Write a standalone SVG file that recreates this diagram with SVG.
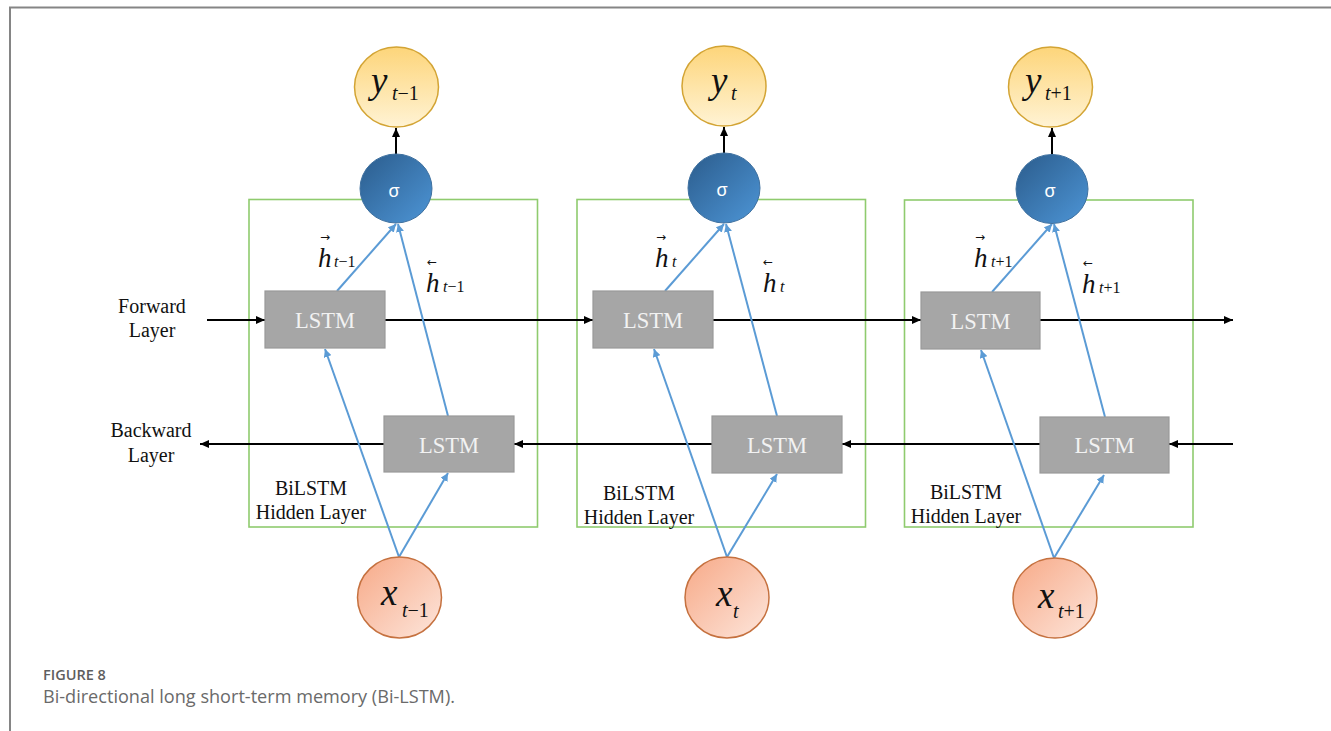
<svg xmlns="http://www.w3.org/2000/svg" width="1331" height="731" viewBox="0 0 1331 731">
<defs>
<linearGradient id="gy" x1="0" y1="0" x2="0" y2="1"><stop offset="0" stop-color="#fdd57a"/><stop offset="1" stop-color="#fff3d4"/></linearGradient>
<linearGradient id="gs" x1="0" y1="0" x2="1" y2="1"><stop offset="0" stop-color="#2b5c8c"/><stop offset="1" stop-color="#4d95d6"/></linearGradient>
<linearGradient id="gx" x1="0" y1="0" x2="1" y2="1"><stop offset="0" stop-color="#f7a987"/><stop offset="1" stop-color="#fde6dc"/></linearGradient>
<marker id="ak" markerWidth="9" markerHeight="8" refX="9" refY="4" orient="auto" markerUnits="userSpaceOnUse"><path d="M0,0 L9,4 L0,8 z" fill="#000"/></marker>
<marker id="ab" markerWidth="8" markerHeight="8" refX="8" refY="4" orient="auto" markerUnits="userSpaceOnUse"><path d="M0,0 L8,4 L0,8 z" fill="#5b9bd5"/></marker>
</defs>
<style>
.frame{stroke:#858585;stroke-width:2;fill:none}
.gbox{fill:none;stroke:#8fcb6e;stroke-width:1.6}
.lstm{fill:#a6a6a6;stroke:#999;stroke-width:1.2}
.lt{font-family:"Liberation Serif",serif;font-size:22.5px;fill:#f2f2f2;text-anchor:middle}
.ycirc{fill:url(#gy);stroke:#d3a434;stroke-width:1.5}
.scirc{fill:url(#gs);stroke:#3f71a0;stroke-width:1}
.xcirc{fill:url(#gx);stroke:#c5713f;stroke-width:1.5}
.sig{font-family:"Liberation Sans",sans-serif;font-size:18px;fill:#fff;text-anchor:middle}
.m{font-family:"Liberation Serif",serif;font-style:italic;fill:#111}
.up{font-style:normal}
.big{font-size:37px}
.hl{font-size:27px}
.sb{font-size:20px}
.hs{font-size:16px}
.acc{font-family:"DejaVu Sans",sans-serif;font-size:12px;fill:#111}
.lbl{font-family:"Liberation Serif",serif;font-size:20px;fill:#111;text-anchor:middle}
.blk{stroke:#000;stroke-width:2;fill:none}
.blu{stroke:#5b9bd5;stroke-width:2;fill:none}
.cap1{font-family:"Open Sans",sans-serif;font-weight:600;font-size:14.5px;fill:#5e5e5e}
.cap2{font-family:"Open Sans",sans-serif;font-size:18px;fill:#6a6a6a}
</style>
<rect width="1331" height="731" fill="#fff"/>
<path class="frame" d="M10,731 L10,7.5 L1331,7.5"/>

<g id="hidden-boxes">
<rect id="box1" class="gbox" x="249" y="199.5" width="288.5" height="327.5"/>
<rect id="box2" class="gbox" x="577" y="199.5" width="288.5" height="327.5"/>
<rect id="box3" class="gbox" x="904.5" y="200" width="288.5" height="327"/>
</g>

<g id="connectors">
<line class="blk" x1="396" y1="154" x2="396" y2="128" marker-end="url(#ak)"/>
<line class="blk" x1="724" y1="153" x2="724" y2="127" marker-end="url(#ak)"/>
<line class="blk" x1="1052" y1="155" x2="1052" y2="128" marker-end="url(#ak)"/>
<line class="blk" x1="207" y1="320" x2="265" y2="320" marker-end="url(#ak)"/>
<line class="blk" x1="385" y1="320" x2="593" y2="320" marker-end="url(#ak)"/>
<line class="blk" x1="713" y1="320" x2="921" y2="320" marker-end="url(#ak)"/>
<line class="blk" x1="1040" y1="320" x2="1233" y2="320" marker-end="url(#ak)"/>
<line class="blk" x1="1233" y1="444" x2="1169" y2="444" marker-end="url(#ak)"/>
<line class="blk" x1="1040" y1="444" x2="842" y2="444" marker-end="url(#ak)"/>
<line class="blk" x1="712" y1="444" x2="514" y2="444" marker-end="url(#ak)"/>
<line class="blk" x1="384" y1="444" x2="200" y2="444" marker-end="url(#ak)"/>
<line class="blu" x1="399" y1="557" x2="325" y2="349" marker-end="url(#ab)"/>
<line class="blu" x1="399" y1="557" x2="448" y2="473" marker-end="url(#ab)"/>
<line class="blu" x1="337" y1="291" x2="396" y2="224" marker-end="url(#ab)"/>
<line class="blu" x1="448" y1="416" x2="398" y2="224" marker-end="url(#ab)"/>
<line class="blu" x1="727" y1="557" x2="654" y2="349" marker-end="url(#ab)"/>
<line class="blu" x1="727" y1="557" x2="777" y2="474" marker-end="url(#ab)"/>
<line class="blu" x1="665" y1="291" x2="724" y2="224" marker-end="url(#ab)"/>
<line class="blu" x1="777" y1="416" x2="726" y2="224" marker-end="url(#ab)"/>
<line class="blu" x1="1054" y1="558" x2="981" y2="350" marker-end="url(#ab)"/>
<line class="blu" x1="1054" y1="558" x2="1104" y2="475" marker-end="url(#ab)"/>
<line class="blu" x1="992" y1="292" x2="1052" y2="224" marker-end="url(#ab)"/>
<line class="blu" x1="1105" y1="417" x2="1054" y2="224" marker-end="url(#ab)"/>
</g>

<g id="lstm-f1"><rect class="lstm" x="265" y="291" width="120" height="57"/><text class="lt" x="325" y="328">LSTM</text></g>
<g id="lstm-b1"><rect class="lstm" x="384" y="416" width="130" height="56"/><text class="lt" x="449" y="453">LSTM</text></g>
<g id="lstm-f2"><rect class="lstm" x="593" y="291" width="120" height="57"/><text class="lt" x="653" y="328">LSTM</text></g>
<g id="lstm-b2"><rect class="lstm" x="712" y="416" width="130" height="57"/><text class="lt" x="777" y="453">LSTM</text></g>
<g id="lstm-f3"><rect class="lstm" x="921" y="292" width="119" height="57"/><text class="lt" x="980.5" y="329">LSTM</text></g>
<g id="lstm-b3"><rect class="lstm" x="1040" y="417" width="129" height="56"/><text class="lt" x="1104.5" y="453">LSTM</text></g>

<g id="y1"><ellipse class="ycirc" cx="396.5" cy="87" rx="42" ry="40"/><text class="m big" x="371" y="93">y<tspan class="sb" x="392" y="100">t<tspan class="up">−1</tspan></tspan></text></g>
<g id="y2"><ellipse class="ycirc" cx="724" cy="86" rx="42" ry="40"/><text class="m big" x="711" y="93">y<tspan class="sb" x="731" y="100">t</tspan></text></g>
<g id="y3"><ellipse class="ycirc" cx="1050.5" cy="87" rx="42" ry="40"/><text class="m big" x="1025" y="93">y<tspan class="sb" x="1045" y="100">t<tspan class="up">+1</tspan></tspan></text></g>

<g id="s1"><ellipse class="scirc" cx="396" cy="188.5" rx="36" ry="34.5"/><text class="sig" x="394" y="197">σ</text></g>
<g id="s2"><ellipse class="scirc" cx="724" cy="188" rx="36" ry="35"/><text class="sig" x="722" y="196">σ</text></g>
<g id="s3"><ellipse class="scirc" cx="1052" cy="189" rx="36" ry="34.5"/><text class="sig" x="1050" y="197">σ</text></g>

<g id="x1"><ellipse class="xcirc" cx="399.5" cy="597.5" rx="42" ry="40.5"/><text class="m big" x="381" y="605">x<tspan class="sb" x="402" y="617">t<tspan class="up">−1</tspan></tspan></text></g>
<g id="x2"><ellipse class="xcirc" cx="727" cy="597.5" rx="42" ry="40.5"/><text class="m big" x="716" y="606">x<tspan class="sb" x="733" y="618">t</tspan></text></g>
<g id="x3"><ellipse class="xcirc" cx="1055" cy="598" rx="42" ry="40"/><text class="m big" x="1038" y="608">x<tspan class="sb" x="1058" y="618">t<tspan class="up">+1</tspan></tspan></text></g>

<g id="h-labels">
<text class="acc" x="320" y="241">→</text><text class="m hl" x="318" y="267">h<tspan class="hs" x="334">t<tspan class="up">−1</tspan></tspan></text>
<text class="acc" x="427" y="266">←</text><text class="m hl" x="426" y="292">h<tspan class="hs" x="443">t<tspan class="up">−1</tspan></tspan></text>
<text class="acc" x="656" y="241">→</text><text class="m hl" x="655" y="267">h<tspan class="hs" x="672">t</tspan></text>
<text class="acc" x="763" y="266">←</text><text class="m hl" x="763" y="292">h<tspan class="hs" x="780">t</tspan></text>
<text class="acc" x="975" y="241">→</text><text class="m hl" x="974" y="267">h<tspan class="hs" x="991">t<tspan class="up">+1</tspan></tspan></text>
<text class="acc" x="1083" y="267">←</text><text class="m hl" x="1082" y="293">h<tspan class="hs" x="1099">t<tspan class="up">+1</tspan></tspan></text>
</g>

<g id="layer-labels">
<text class="lbl" x="152" y="313">Forward</text><text class="lbl" x="152" y="337">Layer</text>
<text class="lbl" x="151" y="437">Backward</text><text class="lbl" x="151" y="462">Layer</text>
<text class="lbl" x="311" y="495">BiLSTM</text><text class="lbl" x="311" y="519">Hidden Layer</text>
<text class="lbl" x="639" y="500">BiLSTM</text><text class="lbl" x="639" y="524">Hidden Layer</text>
<text class="lbl" x="966" y="499">BiLSTM</text><text class="lbl" x="966" y="523">Hidden Layer</text>
</g>

<g id="caption">
<text class="cap1" x="43" y="680">FIGURE 8</text>
<text class="cap2" x="43" y="703" textLength="412" lengthAdjust="spacingAndGlyphs">Bi-directional long short-term memory (Bi-LSTM).</text>
</g>
</svg>
